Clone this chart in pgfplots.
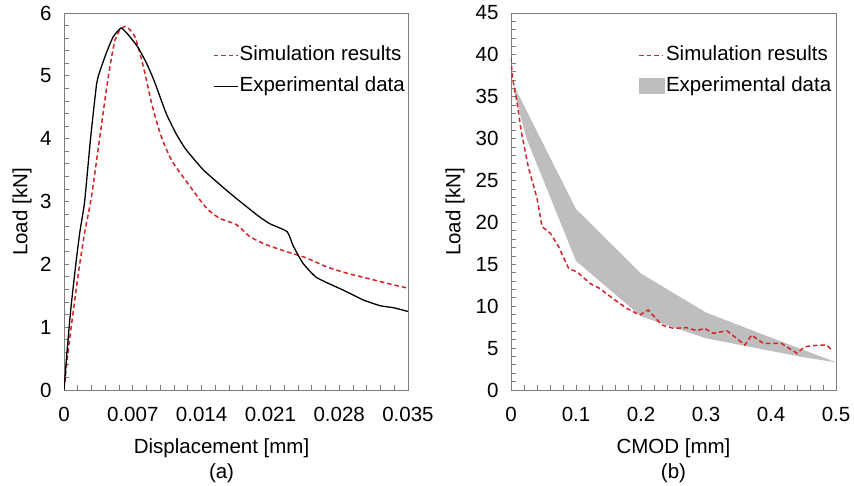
\documentclass[border=0pt]{standalone}
\usepackage{fontspec}
\setmainfont{Liberation Sans}
\usepackage{pgfplots}
\pgfplotsset{compat=1.18}
\definecolor{simred}{RGB}{210,35,40}
\definecolor{bandgray}{RGB}{190,190,190}
\definecolor{axgray}{RGB}{125,125,125}

\pgfplotsset{
  panel/.style={
    scale only axis, height=377pt,
    axis line style={axgray, line width=0.9pt},
    tick style={axgray, line width=0.8pt},
    tick align=inside, xtick pos=bottom, ytick pos=left,
    major tick length=5pt, minor tick length=5pt,
    minor tick num=4,
    ymin=0, xmin=0,
    font=\fontsize{20.5}{25}\selectfont,
    tick label style={font=\fontsize{20.5}{25}\selectfont},
    /pgf/number format/assume math mode=true,
    scaled x ticks=false,
    xticklabel style={yshift=-14pt},
    yticklabel style={xshift=-9pt},
    xlabel style={align=center, anchor=north, inner sep=0pt},
    ylabel style={anchor=center, inner sep=0pt},
    legend style={draw=none, fill=none, inner sep=0pt, anchor=north west,
      nodes={inner sep=0pt, text height=14pt, text depth=4pt,
        font=\fontsize{20.5}{25}\selectfont},
      row sep=13pt, column sep=1pt},
    legend cell align=left,
  },
  lineleg/.style={legend image code/.code={\draw[##1] (0pt,0pt) -- (24pt,0pt);}},
  arealeg/.style={legend image code/.code={\fill[##1] (0pt,-8pt) rectangle (26pt,8pt);}},
}

\begin{document}
\begin{tikzpicture}
% (a) load vs displacement
\begin{axis}[panel, at={(64pt,96pt)}, width=344pt,
  xmax=0.035, ymax=6,
  xtick={0,0.007,0.014,0.021,0.028,0.035},
  xticklabels={0,0.007,0.014,0.021,0.028,0.035},
  ytick={0,1,...,6},
  xlabel={Displacement [mm]\\(a)},
  xlabel style={at={(axis description cs:0.458,-0.129)}},
  ylabel={Load [kN]},
  ylabel style={at={(axis description cs:-0.122,0.472)}},
  legend style={at={(axis description cs:0.433,0.912)}},
]
\addplot[simred, line width=1.5pt, dash pattern=on 4.5pt off 3pt, smooth, tension=0.4, lineleg] coordinates {
(0,0) (0.0004,0.6) (0.0009,1.2) (0.0015,1.9) (0.0021,2.5) (0.0028,3.08)
(0.0037,4.09) (0.00451,4.99) (0.00519,5.57) (0.00587,5.76) (0.00638,5.78)
(0.00722,5.62) (0.00807,5.15) (0.00892,4.56) (0.00977,4.09) (0.01045,3.82)
(0.01112,3.61) (0.01282,3.24) (0.01452,2.89) (0.01587,2.73) (0.01757,2.63)
(0.01892,2.44) (0.02062,2.31) (0.02266,2.20) (0.02469,2.10) (0.02673,1.96)
(0.02876,1.86) (0.0308,1.78) (0.03283,1.70) (0.035,1.62)
};
\addlegendentry{Simulation results}
\addplot[black, line width=1.3pt, smooth, tension=0.3, lineleg] coordinates {
(0,0) (0.0003,0.6) (0.0007,1.3) (0.0012,2.0) (0.0016,2.5) (0.0021,3.0)
(0.0027,4.0) (0.0033,4.85) (0.0036,5.05) (0.0043,5.36) (0.0050,5.62)
(0.0058,5.76) (0.0065,5.66) (0.0075,5.46) (0.0084,5.20) (0.0092,4.91)
(0.0104,4.40) (0.0114,4.08) (0.0124,3.83) (0.0142,3.50) (0.0169,3.13)
(0.0196,2.79) (0.0209,2.65) (0.0227,2.52) (0.0233,2.30) (0.0243,2.02)
(0.0257,1.79) (0.0284,1.59) (0.0305,1.43) (0.0322,1.34) (0.0335,1.31)
(0.035,1.25)
};
\addlegendentry{Experimental data}
\end{axis}

% (b) load vs CMOD
\begin{axis}[panel, at={(511pt,96pt)}, width=325pt,
  xmax=0.5, ymax=45,
  xtick={0,0.1,...,0.5},
  ytick={0,5,...,45},
  xlabel={CMOD [mm]\\(b)},
  xlabel style={at={(axis description cs:0.50,-0.129)}},
  ylabel={Load [kN]},
  ylabel style={at={(axis description cs:-0.172,0.472)}},
  legend style={at={(axis description cs:0.391,0.912)}},
  reverse legend,
]
\addplot[draw=none, fill=bandgray, area legend, arealeg] coordinates {
(0.004,36.4) (0.1,21.6) (0.2,13.9) (0.3,9.25) (0.4,6.25) (0.5,3.3)
(0.445,3.98) (0.4,4.66) (0.3,6.17) (0.2,8.8) (0.1,15.4) (0.024,30) (0.004,35.8)
};
\addlegendentry{Experimental data}
\addplot[simred, line width=1.5pt, dash pattern=on 4.5pt off 3pt, lineleg] coordinates {
(0,39.6) (0.002,37.4) (0.0087,34.6) (0.0164,30.6) (0.0267,26.6) (0.040,22.9)
(0.0477,19.5) (0.0605,18.7) (0.0733,17.1) (0.0887,14.5) (0.1015,14.1)
(0.122,12.7) (0.137,12.1) (0.157,10.9) (0.178,9.75) (0.198,8.95) (0.211,9.55)
(0.232,7.76) (0.25,7.36) (0.27,7.44) (0.286,7.08) (0.298,7.36) (0.311,6.76)
(0.332,7.08) (0.36,5.37) (0.37,6.56) (0.388,5.57) (0.416,5.57) (0.44,4.38)
(0.452,5.17) (0.475,5.37) (0.486,5.37) (0.493,4.77)
};
\addlegendentry{Simulation results}
\end{axis}
\pgfresetboundingbox
\path (0,0) rectangle (854pt,486pt);
\end{tikzpicture}
\end{document}
